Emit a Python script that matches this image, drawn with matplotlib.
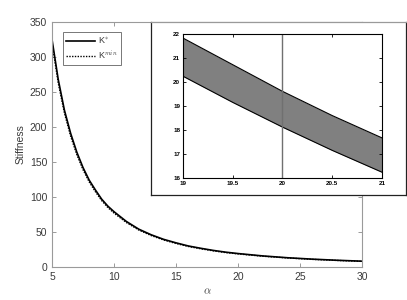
import matplotlib
matplotlib.use('Agg')
import matplotlib.pyplot as plt

plt.rcParams['font.family'] = ['Liberation Sans', 'DejaVu Sans']
plt.rcParams['mathtext.fontset'] = 'cm'

# main curves
alpha = [5, 5.5, 6, 6.5, 7, 7.5, 8, 8.5, 9, 9.5, 10, 11, 12, 13, 14,
         15, 16, 17, 18, 19, 20, 22, 24, 26, 28, 30]
k_star = [325, 268, 224, 191, 164, 142, 124, 110, 97, 87, 79, 65, 54, 46,
          39.5, 34.5, 30, 26.7, 23.7, 21.2, 19.2, 15.8, 13.2, 11.2, 9.6, 8.3]
k_min = [320, 263, 220, 187, 160.5, 139, 121.5, 107.5, 95, 85, 77, 63.5,
         52.8, 44.9, 38.6, 33.6, 29.3, 26, 23.1, 20.6, 18.7, 15.4, 12.9,
         10.9, 9.35, 8.05]

# inset band
alpha_in = [19, 19.5, 20, 20.5, 21]
band_hi = [21.83, 20.72, 19.61, 18.6, 17.67]
band_lo = [20.24, 19.15, 18.12, 17.15, 16.24]

spine_c = '#9a9a9a'
text_c = '#3a3a3a'

fig = plt.figure(figsize=(4.07, 3.00), dpi=100)
ax = fig.add_axes([0.1278, 0.11, 0.7617, 0.8167])
ax.plot(alpha, k_star, color='black', lw=1.2, label='K$^{*}$')
ax.plot(alpha, k_min, color='black', lw=1.0, ls=(0, (1, 1)), label='K$^{min}$')
ax.set_xlim(5, 30)
ax.set_ylim(0, 350)
ax.set_xticks([5, 10, 15, 20, 25, 30])
ax.set_yticks([0, 50, 100, 150, 200, 250, 300, 350])
ax.tick_params(direction='in', length=3, width=0.7, colors=spine_c,
               labelcolor=text_c, labelsize=7.5, top=True, right=True)
for s in ax.spines.values():
    s.set_color(spine_c)
    s.set_linewidth(0.8)
ax.set_xlabel(r'$\alpha$', fontsize=8, color=text_c, labelpad=3)
ax.set_ylabel('Stiffness', fontsize=7.5, color=text_c, labelpad=3)
leg = ax.legend(loc='upper left', bbox_to_anchor=(0.035, 0.96), fontsize=6.5,
                frameon=True, fancybox=False, handlelength=3.2,
                handletextpad=0.3, borderpad=0.35, labelspacing=0.3,
                borderaxespad=0)
leg.get_frame().set_edgecolor('#555555')
leg.get_frame().set_linewidth(0.7)
for t in leg.get_texts():
    t.set_color(text_c)

# inset outer box
box = fig.add_axes([0.371, 0.35, 0.6265, 0.5767])
box.set_xticks([])
box.set_yticks([])
box.set_facecolor('white')
for name, s in box.spines.items():
    s.set_color('#222222' if name != 'top' else spine_c)
    s.set_linewidth(0.9)

# inset axes
ins = fig.add_axes([0.4496, 0.4067, 0.489, 0.48])
ins.fill_between(alpha_in, band_lo, band_hi, color='#808080', lw=0)
ins.plot(alpha_in, band_hi, color='black', lw=0.8)
ins.plot(alpha_in, band_lo, color='black', lw=0.8)
ins.axvline(20, color='#707070', lw=1.0)
ins.set_xlim(19, 21)
ins.set_ylim(16, 22)
ins.set_xticks([19, 19.5, 20, 20.5, 21])
ins.set_xticklabels(['19', '19.5', '20', '20.5', '21'])
ins.set_yticks([16, 17, 18, 19, 20, 21, 22])
ins.tick_params(direction='in', length=2, width=0.6, labelsize=4.5,
                top=True, right=True, pad=2)
for lab in ins.get_xticklabels() + ins.get_yticklabels():
    lab.set_fontweight('bold')
for s in ins.spines.values():
    s.set_color('black')
    s.set_linewidth(0.8)

fig.savefig('out.png', dpi=100)
